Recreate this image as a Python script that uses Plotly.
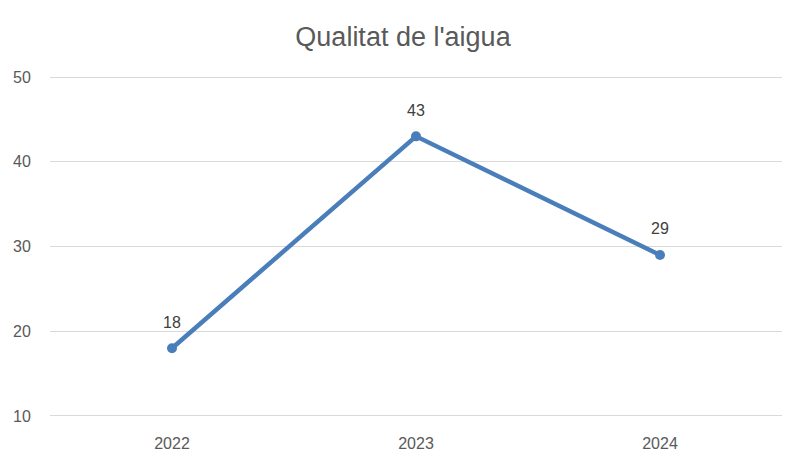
import plotly.graph_objects as go

years = ["2022", "2023", "2024"]
values = [18, 43, 29]
title_text = "Qualitat de l'aigua"
y_ticks = [10, 20, 30, 40, 50]

line_color = "#4A7EBB"
text_color = "#595959"
font_family = "Liberation Sans, Arial, sans-serif"

fig = go.Figure()
fig.add_trace(go.Scatter(
    x=list(range(len(years))), y=values, mode="lines+markers",
    line=dict(color=line_color, width=4.5),
    marker=dict(color=line_color, size=10),
    hoverinfo="skip", showlegend=False, cliponaxis=False,
))

for i, yv in enumerate(values):
    fig.add_annotation(x=i, y=yv, xref="x", yref="y", text=str(yv), showarrow=False,
                       yshift=26, font=dict(size=16, color="#404040", family=font_family))

fig.update_layout(
    width=805, height=464,
    margin=dict(l=42, r=31, t=68, b=55),
    paper_bgcolor="white", plot_bgcolor="white",
    title=dict(text=title_text, x=0.4907, xanchor="center", y=0.9375, yanchor="middle",
               font=dict(size=27, color=text_color, family=font_family)),
    font=dict(family=font_family, color=text_color),
)
fig.update_xaxes(range=[-0.5, 2.5], tickvals=list(range(len(years))), ticktext=years,
                 showgrid=False, showline=False, automargin=False,
                 zeroline=False, ticks="outside", ticklen=12, tickcolor="rgba(0,0,0,0)",
                 tickfont=dict(size=16, color=text_color))
fig.update_yaxes(range=[9.88, 50.12], tickvals=y_ticks, showgrid=True, gridcolor="#D9D9D9",
                 gridwidth=1, zeroline=False, showline=False, ticks="outside",
                 ticklen=15, tickcolor="rgba(0,0,0,0)", automargin=False,
                 tickfont=dict(size=16, color=text_color))

fig.write_html("out.html")
